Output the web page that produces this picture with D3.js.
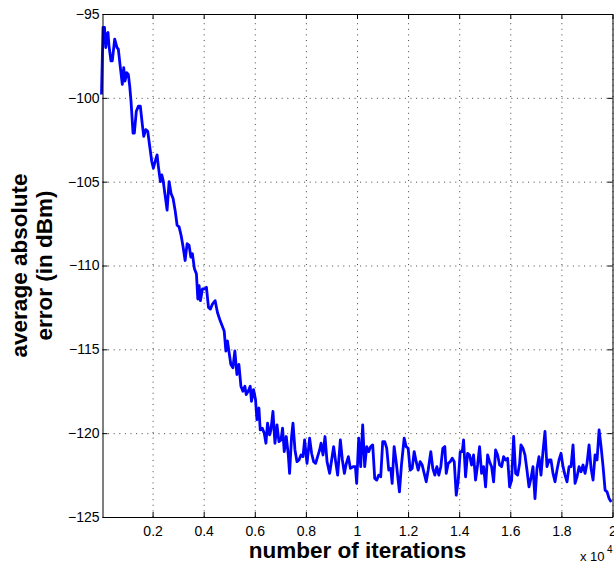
<!DOCTYPE html>
<html>
<head>
<meta charset="utf-8">
<script src="https://cdn.jsdelivr.net/npm/d3@7"></script>
<style>
  body { margin: 0; background: #fff; }
  text { font-family: "Liberation Sans", Arial, Helvetica, sans-serif; }
</style>
</head>
<body>
<div id="chart"></div>
<script>
// values
const iterations = [
  0, 60, 118, 165, 216, 255, 294, 372, 423, 517, 608, 659, 725, 815, 870, 921, 988, 1051, 1105, 1156,
  1235, 1286, 1364, 1443, 1521, 1599, 1654, 1733, 1811, 1889, 1968, 2031, 2097, 2176, 2227, 2305, 2360, 2411, 2489, 2568,
  2646, 2724, 2803, 2881, 2960, 3038, 3116, 3195, 3273, 3352, 3430, 3497, 3559, 3638, 3716, 3771, 3822, 3873, 3951, 4030,
  4108, 4187, 4265, 4343, 4449, 4539, 4647, 4802, 4869, 4931, 4986, 5064, 5143, 5221, 5300, 5378, 5457, 5535, 5613, 5664,
  5743, 5821, 5872, 5951, 6029, 6084, 6162, 6213, 6292, 6370, 6437, 6499, 6578, 6633, 6711, 6789, 6868, 6946, 7025, 7087,
  7154, 7232, 7311, 7362, 7440, 7495, 7573, 7652, 7730, 7808, 7887, 7950, 8044, 8146, 8224, 8303, 8381, 8459, 8538, 8593,
  8671, 8749, 8828, 8930, 9008, 9087, 9165, 9243, 9349, 9428, 9506, 9584, 9663, 9741, 9847, 9937, 9988, 10067, 10145, 10223,
  10302, 10380, 10459, 10537, 10615, 10694, 10772, 10851, 10929, 11007, 11086, 11164, 11243, 11321, 11376, 11454, 11533, 11611, 11662, 11740,
  11846, 11924, 12003, 12081, 12160, 12238, 12317, 12395, 12473, 12552, 12630, 12709, 12787, 12889, 12967, 13046, 13124, 13203, 13281, 13359,
  13438, 13493, 13571, 13649, 13728, 13806, 13885, 13963, 14041, 14120, 14171, 14249, 14328, 14406, 14484, 14563, 14641, 14720, 14798, 14876,
  14955, 15033, 15112, 15190, 15268, 15347, 15425, 15504, 15582, 15660, 15739, 15817, 15896, 15974, 16052, 16131, 16209, 16288, 16366, 16417,
  16495, 16574, 16652, 16731, 16809, 16887, 16966, 17044, 17123, 17201, 17279, 17358, 17436, 17515, 17593, 17671, 17750, 17828, 17907, 17985,
  18063, 18142, 18220, 18299, 18377, 18455, 18534, 18612, 18691, 18769, 18847, 18926, 19004, 19083, 19161, 19239, 19318, 19396, 19475, 19553,
  19631, 19710, 19788, 19867, 19950
];
const avgError = [
  -99.8, -95.8, -95.8, -97.0, -96.2, -96.1, -96.9, -97.8, -97.8, -96.5, -97.0, -97.1, -98.0, -99.2, -98.2, -99.0, -98.5, -98.6, -99.3, -100.2,
  -102.1, -102.1, -100.8, -100.5, -100.5, -101.6, -102.3, -101.9, -102.0, -102.9, -103.8, -104.2, -103.8, -103.4, -104.1, -105.0, -104.6, -104.9, -105.8, -106.7,
  -105.0, -105.7, -106.0, -106.7, -107.6, -107.7, -108.2, -108.9, -109.7, -108.7, -108.8, -109.5, -109.3, -110.2, -110.5, -112.0, -111.2, -112.1, -111.4, -111.4,
  -111.3, -112.5, -112.6, -112.3, -112.1, -112.8, -113.3, -113.9, -115.1, -114.5, -115.1, -115.9, -116.1, -115.1, -116.5, -115.9, -117.2, -117.5, -117.2, -117.7,
  -117.5, -117.2, -118.1, -117.4, -118.0, -119.2, -118.5, -119.8, -119.7, -120.0, -120.6, -119.4, -120.1, -119.8, -118.7, -120.6, -119.5, -120.5, -120.4, -119.7,
  -121.1, -120.2, -121.3, -122.4, -120.2, -119.4, -121.0, -121.7, -121.6, -121.3, -121.4, -120.4, -121.8, -120.3, -121.2, -121.7, -121.8, -121.4, -121.0, -120.6,
  -121.3, -120.2, -121.7, -122.4, -121.6, -120.8, -121.7, -122.5, -120.4, -121.6, -122.4, -121.8, -121.4, -122.1, -122.0, -122.0, -123.0, -120.3, -122.0, -119.5,
  -122.0, -120.8, -121.1, -120.8, -120.7, -122.7, -122.8, -122.5, -122.6, -120.5, -120.5, -120.9, -122.2, -122.1, -123.0, -120.8, -121.7, -122.8, -123.5, -121.9,
  -120.3, -120.8, -120.9, -122.2, -122.1, -121.1, -121.7, -122.2, -121.7, -121.9, -122.4, -122.9, -122.2, -121.1, -122.1, -122.5, -122.0, -122.5, -122.0, -120.9,
  -120.8, -122.4, -121.8, -121.7, -121.5, -121.7, -123.7, -122.8, -121.1, -121.1, -120.4, -122.6, -121.2, -121.3, -121.9, -121.3, -122.8, -121.9, -120.8, -122.4,
  -122.0, -123.2, -121.3, -121.7, -122.0, -122.9, -121.0, -121.3, -121.9, -122.0, -121.4, -121.6, -121.5, -123.2, -122.8, -120.2, -122.4, -122.5, -121.8, -120.7,
  -120.9, -121.3, -122.2, -123.2, -122.7, -122.0, -123.9, -122.1, -121.4, -122.5, -121.1, -119.9, -122.0, -121.6, -121.6, -122.4, -122.9, -122.2, -121.6, -121.2,
  -122.0, -122.5, -122.9, -122.0, -122.0, -120.7, -123.0, -122.6, -122.0, -122.3, -121.9, -122.4, -121.8, -120.7, -122.1, -122.8, -121.3, -121.6, -119.8, -120.8,
  -122.0, -123.4, -123.5, -123.9, -124.1
];
const xTicks = [2000, 4000, 6000, 8000, 10000, 12000, 14000, 16000, 18000, 20000];
const yTicks = [-125, -120, -115, -110, -105, -100, -95];

const data = iterations.map((it, i) => ({ it: it, err: avgError[i] }));

let svgWidth = 614;
let svgHeight = 565;
let margin = { top: 14, right: 1.5, bottom: 48, left: 102.5 };
let width = svgWidth - margin.left - margin.right;
let height = svgHeight - margin.top - margin.bottom;

let svg = d3.select('#chart').append('svg')
  .attr('width', svgWidth)
  .attr('height', svgHeight);

let g = svg.append('g')
  .attr('transform', `translate(${margin.left}, ${margin.top})`);

let x = d3.scaleLinear().domain([40, 20000]).range([0, width]);
let y = d3.scaleLinear().domain([-125, -95]).range([height, 0]);

// dotted grid
g.append('g')
  .attr('class', 'grid')
  .attr('transform', `translate(0, ${height})`)
  .call(d3.axisBottom(x).tickValues(xTicks).tickSize(-height).tickFormat(''));
g.append('g')
  .attr('class', 'grid')
  .call(d3.axisLeft(y).tickValues(yTicks).tickSize(-width).tickFormat(''));
g.selectAll('.grid .domain').remove();
g.selectAll('.grid line')
  .attr('stroke', '#444')
  .attr('stroke-width', 1)
  .attr('stroke-dasharray', '1,4.6');

// data line
g.append('path')
  .datum(data)
  .attr('fill', 'none')
  .attr('stroke', '#0000ff')
  .attr('stroke-width', 2.8)
  .attr('stroke-linejoin', 'round')
  .attr('d', d3.line().x(d => x(d.it)).y(d => y(d.err)));

// axes with inward ticks on all four sides
let fmtX = d3.format('~g');
let xAxis = g.append('g')
  .attr('transform', `translate(0, ${height})`)
  .call(d3.axisBottom(x).tickValues(xTicks).tickSizeInner(-5).tickSizeOuter(0)
    .tickPadding(9).tickFormat(d => fmtX(d / 1e4)));
let yAxis = g.append('g')
  .call(d3.axisLeft(y).tickValues(yTicks).tickSizeInner(-5).tickSizeOuter(0)
    .tickPadding(3).tickFormat(d3.format('d')));
g.append('g')
  .call(d3.axisTop(x).tickValues(xTicks).tickSizeInner(-5).tickSizeOuter(0).tickFormat(''));
g.append('g')
  .attr('transform', `translate(${width}, 0)`)
  .call(d3.axisRight(y).tickValues(yTicks).tickSizeInner(-5).tickSizeOuter(0).tickFormat(''));

g.selectAll('.domain').attr('stroke', '#000').attr('stroke-width', 1);
g.selectAll('.tick line:not(.grid line)');
svg.selectAll('text').attr('font-size', 14).attr('fill', '#000');

// axis labels
svg.append('text')
  .attr('x', margin.left + width / 2)
  .attr('y', 558)
  .attr('text-anchor', 'middle')
  .attr('font-size', 22.5)
  .attr('font-weight', 'bold')
  .text('number of iterations');

let yLab = ['average absolute', 'error (in dBm)'];
svg.selectAll('.ylab')
  .data(yLab)
  .enter()
  .append('text')
  .attr('class', 'ylab')
  .attr('transform', (d, i) => `translate(${26.5 + i * 25}, ${margin.top + height / 2}) rotate(-90)`)
  .attr('text-anchor', 'middle')
  .attr('font-size', 22.5)
  .attr('font-weight', 'bold')
  .text(d => d);

// exponent note
svg.append('text')
  .attr('x', 580)
  .attr('y', 561)
  .attr('font-size', 13)
  .text('x 10');
svg.append('text')
  .attr('x', 607)
  .attr('y', 553)
  .attr('font-size', 10)
  .text('4');
</script>
</body>
</html>
